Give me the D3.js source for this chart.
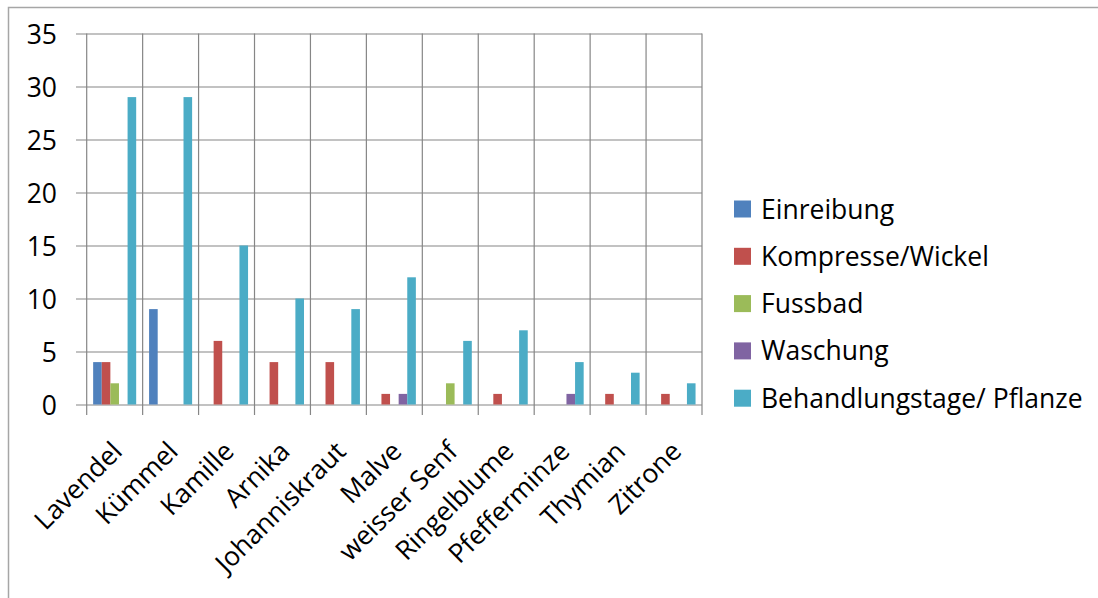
<!DOCTYPE html>
<html>
<head>
<meta charset="utf-8">
<script src="https://cdn.jsdelivr.net/npm/d3@7"></script>
<style>
  html, body { margin: 0; padding: 0; background: #fff; }
  svg { display: block; }
  text { font-family: "Open Sans", Lato, sans-serif; fill: #000; }
</style>
</head>
<body>
<svg id="chart" width="1098" height="598"></svg>
<script>
const categories = ["Lavendel", "Kümmel", "Kamille", "Arnika", "Johanniskraut", "Malve",
  "weisser Senf", "Ringelblume", "Pfefferminze", "Thymian", "Zitrone"];
const seriesNames = ["Einreibung", "Kompresse/Wickel", "Fussbad", "Waschung", "Behandlungstage/ Pflanze"];
const einreibung      = [4, 9, 0, 0, 0, 0, 0, 0, 0, 0, 0];
const kompresseWickel = [4, 0, 6, 4, 4, 1, 0, 1, 0, 1, 1];
const fussbad         = [2, 0, 0, 0, 0, 0, 2, 0, 0, 0, 0];
const waschung        = [0, 0, 0, 0, 0, 1, 0, 0, 1, 0, 0];
const behandlungstage = [29, 29, 15, 10, 9, 12, 6, 7, 4, 3, 2];
const yTicks = [0, 5, 10, 15, 20, 25, 30, 35];
const colors = ["#4F81BD", "#C0504D", "#9BBB59", "#8064A2", "#4BACC6"];

const seriesValues = [einreibung, kompresseWickel, fussbad, waschung, behandlungstage];

const svg = d3.select("#chart");
const fontSize = 26.5;

// chart frame (extends beyond the picture on right and bottom)
svg.append("rect")
  .attr("x", 8.5).attr("y", 7.5).attr("width", 1200).attr("height", 700)
  .attr("fill", "none").attr("stroke", "#a6a6a6").attr("stroke-width", 1.5);

const plot = { left: 86.7, right: 702, top: 33.5, bottom: 404.5 };

const x = d3.scaleBand().domain(categories).range([plot.left, plot.right]).padding(0);
const xs = d3.scaleBand().domain(seriesNames).range([0, x.bandwidth()])
  .paddingInner(0).paddingOuter(0.75);
const y = d3.scaleLinear().domain([0, 35]).range([plot.bottom, plot.top]);

const gridColor = "#868686";

// horizontal gridlines + y ticks
const yAxis = d3.axisLeft(y).tickValues(yTicks).tickSize(-(plot.right - plot.left)).tickFormat(d3.format("d")).tickPadding(0);
const gy = svg.append("g").attr("transform", `translate(${plot.left},0)`).call(yAxis);
gy.select(".domain").remove();
gy.selectAll(".tick line").attr("stroke", gridColor).attr("stroke-width", 1.2)
  .attr("x1", -10.7);
gy.selectAll(".tick text").attr("x", 57 - plot.left).attr("dy", "0.36em")
  .style("font-size", fontSize + "px").style("font-family", "'Open Sans', sans-serif").attr("fill", "#000");

// vertical gridlines at category boundaries
const boundaries = categories.map(c => x(c)).concat([plot.right]);
svg.append("g").selectAll("line").data(boundaries).join("line")
  .attr("x1", d => d).attr("x2", d => d)
  .attr("y1", plot.top).attr("y2", plot.bottom + 10.5)
  .attr("stroke", gridColor).attr("stroke-width", 1.2);

// bars
const groups = svg.append("g").selectAll("g").data(categories).join("g")
  .attr("transform", c => `translate(${x(c)},0)`);
groups.selectAll("rect")
  .data((c, i) => seriesNames.map((s, j) => ({ s, j, v: seriesValues[j][i] })))
  .join("rect")
  .filter(d => d.v > 0)
  .attr("x", d => xs(d.s))
  .attr("width", xs.bandwidth())
  .attr("y", d => y(d.v))
  .attr("height", d => y(0) - y(d.v))
  .attr("fill", d => colors[d.j]);

// x labels rotated
svg.append("g").selectAll("text").data(categories).join("text")
  .attr("transform", c => `translate(${x(c) + x.bandwidth() / 2 + 9},453) rotate(-45)`)
  .attr("text-anchor", "end")
  .style("font-size", fontSize + "px")
  .text(c => c);

// legend
const legend = svg.append("g").selectAll("g").data(seriesNames).join("g")
  .attr("transform", (s, i) => `translate(734,${209 + i * 47.3})`);
legend.append("rect").attr("x", 0).attr("y", -8.5).attr("width", 17).attr("height", 17)
  .attr("fill", (s, i) => colors[i]);
legend.append("text").attr("x", 27).attr("y", 0).attr("dy", "0.36em")
  .style("font-size", fontSize + "px").text(s => s);
</script>
</body>
</html>
